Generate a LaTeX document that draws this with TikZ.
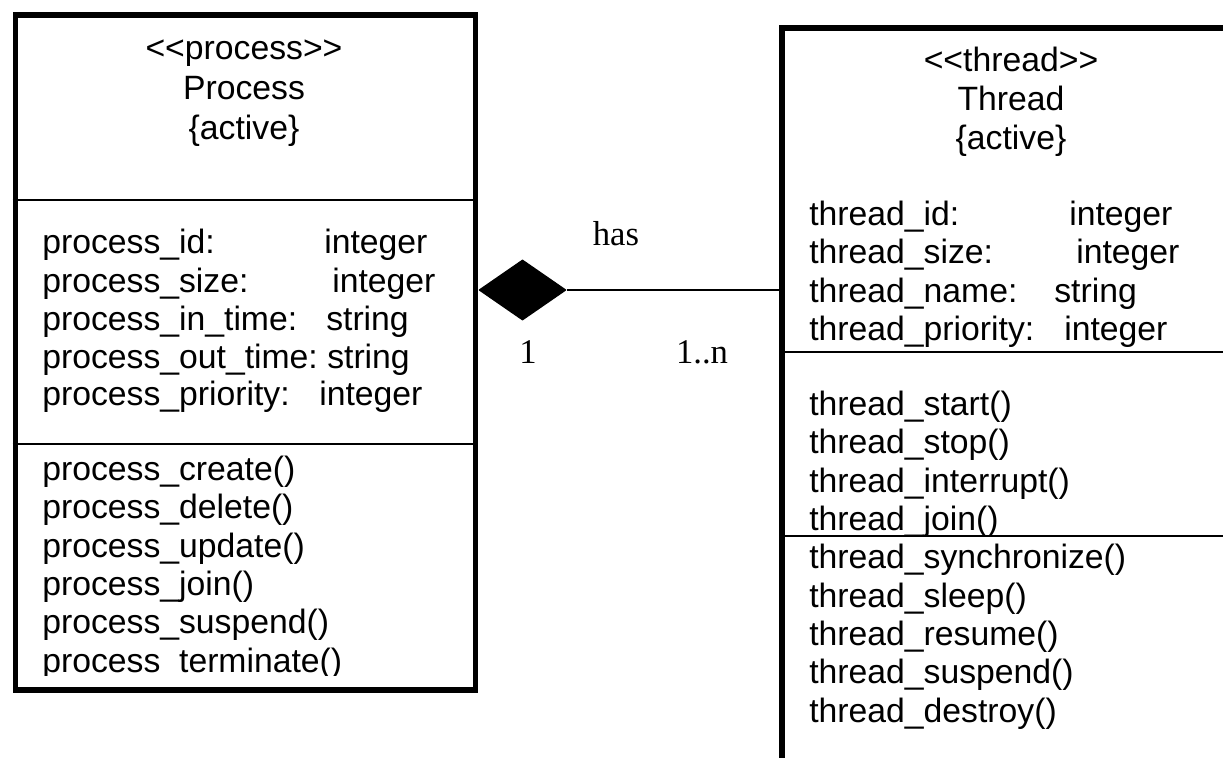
\documentclass[tikz,border=0pt]{standalone}
\usepackage{fontspec}
\setmainfont{Liberation Sans}
\newfontfamily\serifrm{Liberation Serif}
\usetikzlibrary{shapes.geometric}
\tikzset{
  classbox/.style={draw=black, line width=4.2pt, rectangle, inner sep=0pt, fill=none},
  sepline/.style={draw=black, line width=1.5pt},
  conn/.style={draw=black, line width=1.5pt},
  txt/.style={inner sep=0pt, anchor=base west, font=\fontsize{25.3pt}{28.9pt}\selectfont},
  ttl/.style={inner sep=0pt, anchor=base, font=\fontsize{25.3pt}{28.9pt}\selectfont},
  lbl/.style={inner sep=0pt, anchor=base, font=\serifrm\fontsize{26pt}{30pt}\selectfont},
  aggdiamond/.style={diamond, fill=black, draw=black, line width=1pt, line join=round, inner sep=0pt,
    minimum width=65pt, minimum height=45pt}
}
\begin{document}
\begin{tikzpicture}[x=0.75pt, y=-0.75pt]
\useasboundingbox (0,0) rectangle (1223,757);
\clip (0,0) rectangle (1223,757);
% class boxes
\node[classbox, minimum width=345pt, minimum height=506.25pt] (proc) at (245.5,352.5) {};
\node[classbox, minimum width=343.5pt, minimum height=579pt] (thread) at (1011,414) {};
% separators
\draw[sepline] (proc.west |- 0,200) -- (proc.east |- 0,200);
\draw[sepline] (proc.west |- 0,444) -- (proc.east |- 0,444);
\draw[sepline] (thread.west |- 0,352) -- (thread.east |- 0,352);
% process title
\node[ttl] (pt1) at (244,59) {<\kern0pt<process>\kern0pt>};
\node[ttl] (pt2) at (244,99) {Process};
\node[ttl] (pt3) at (244,139) {\{active\}};
% process attributes
\node[txt] (pa1) at (42,253) {process\_id:};
\node[txt] (pa1t) at (324,253) {integer};
\node[txt] (pa2) at (42,292) {process\_size:};
\node[txt] (pa2t) at (332,292) {integer};
\node[txt] (pa3) at (42,330) {process\_in\_time:};
\node[txt] (pa3t) at (326,330) {string};
\node[txt] (pa4) at (42,368) {process\_out\_time:};
\node[txt] (pa4t) at (327,368) {string};
\node[txt] (pa5) at (42,405) {process\_priority:};
\node[txt] (pa5t) at (319,405) {integer};
% process methods
\begin{scope}
\clip (15,444) rectangle (476,675);
\node[txt] (pm1) at (42,480) {process\_create()};
\node[txt] (pm2) at (42,518) {process\_delete()};
\node[txt] (pm3) at (42,557) {process\_update()};
\node[txt] (pm4) at (42,595) {process\_join()};
\node[txt] (pm5) at (42,633) {process\_suspend()};
\node[txt] (pm6) at (42,672) {process\_terminate()};
\end{scope}
% thread title
\node[ttl] (tt1) at (1011,71) {<\kern0pt<thread>\kern0pt>};
\node[ttl] (tt2) at (1011,110) {Thread};
\node[ttl] (tt3) at (1011,149) {\{active\}};
% thread attributes
\node[txt] (ta1) at (809,225) {thread\_id:};
\node[txt] (ta1t) at (1069,225) {integer};
\node[txt] (ta2) at (809,263) {thread\_size:};
\node[txt] (ta2t) at (1076,263) {integer};
\node[txt] (ta3) at (809,302) {thread\_name:};
\node[txt] (ta3t) at (1054,302) {string};
\node[txt] (ta4) at (809,340) {thread\_priority:};
\node[txt] (ta4t) at (1064,340) {integer};
% thread methods
\node[txt] (tm1) at (809,415) {thread\_start()};
\node[txt] (tm2) at (809,453) {thread\_stop()};
\node[txt] (tm3) at (809,492) {thread\_interrupt()};
\node[txt] (tm4) at (809,530) {thread\_join()};
\node[txt] (tm5) at (809,568) {thread\_synchronize()};
\node[txt] (tm6) at (809,607) {thread\_sleep()};
\node[txt] (tm7) at (809,645) {thread\_resume()};
\node[txt] (tm8) at (809,683) {thread\_suspend()};
\node[txt] (tm9) at (809,722) {thread\_destroy()};
% separator drawn over the join text
\draw[sepline] (thread.west |- 0,536) -- (thread.east |- 0,536);
% composition
\node[aggdiamond] (agg) at (522.5,290) {};
\draw[conn] (agg.east) -- (agg.east -| thread.west);
\node[lbl] (has) at (616,245) {has};
\node[lbl] (m1) at (528,363) {1};
\node[lbl] (mn) at (702,363) {1..n};
\end{tikzpicture}
\end{document}
